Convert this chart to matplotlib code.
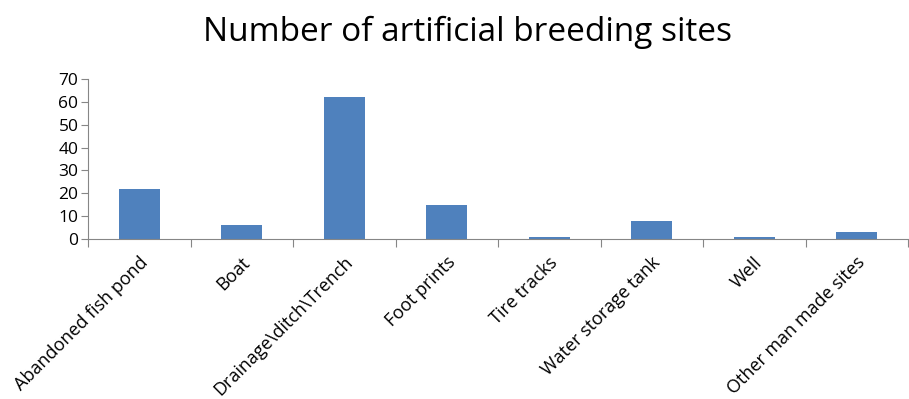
import numpy as np
import matplotlib.pyplot as plt

plt.rcParams['font.family'] = ['Open Sans', 'DejaVu Sans']

categories = ['Abandoned fish pond', 'Boat', 'Drainage\\ditch\\Trench', 'Foot prints',
              'Tire tracks', 'Water storage tank', 'Well', 'Other man made sites']
counts = [22, 6, 62, 15, 1, 8, 1, 3]

fig = plt.figure(figsize=(9.09, 3.99), dpi=100)
ax = fig.add_axes([0.097, 0.401, 0.902, 0.401])

x = np.arange(len(categories))
ax.bar(x, counts, width=0.4, color='#4f81bd')

ax.set_xlim(-0.5, len(categories) - 0.5)
ax.set_ylim(0, 70)
ax.set_yticks(range(0, 71, 10))
ax.tick_params(axis='y', labelsize=12.5, length=5, color='#868686', pad=2)

# ticks on category boundaries, labels at centres
ax.set_xticks(np.arange(-0.5, len(categories), 1.0))
ax.set_xticklabels([])
ax.tick_params(axis='x', length=6, color='#868686', direction='out')
for xi, lab in zip(x, categories):
    ax.annotate(lab, xy=(xi, 0), xycoords=('data', 'axes fraction'),
                xytext=(4, -15), textcoords='offset points',
                rotation=45, rotation_mode='anchor', ha='right', va='center',
                fontsize=13, annotation_clip=False)

for s in ['top', 'right']:
    ax.spines[s].set_visible(False)
ax.spines['left'].set_color('#868686')
ax.spines['bottom'].set_color('#868686')

fig.suptitle('Number of artificial breeding sites', fontsize=24, x=0.514, y=0.96)

fig.savefig('out.png', dpi=100)
